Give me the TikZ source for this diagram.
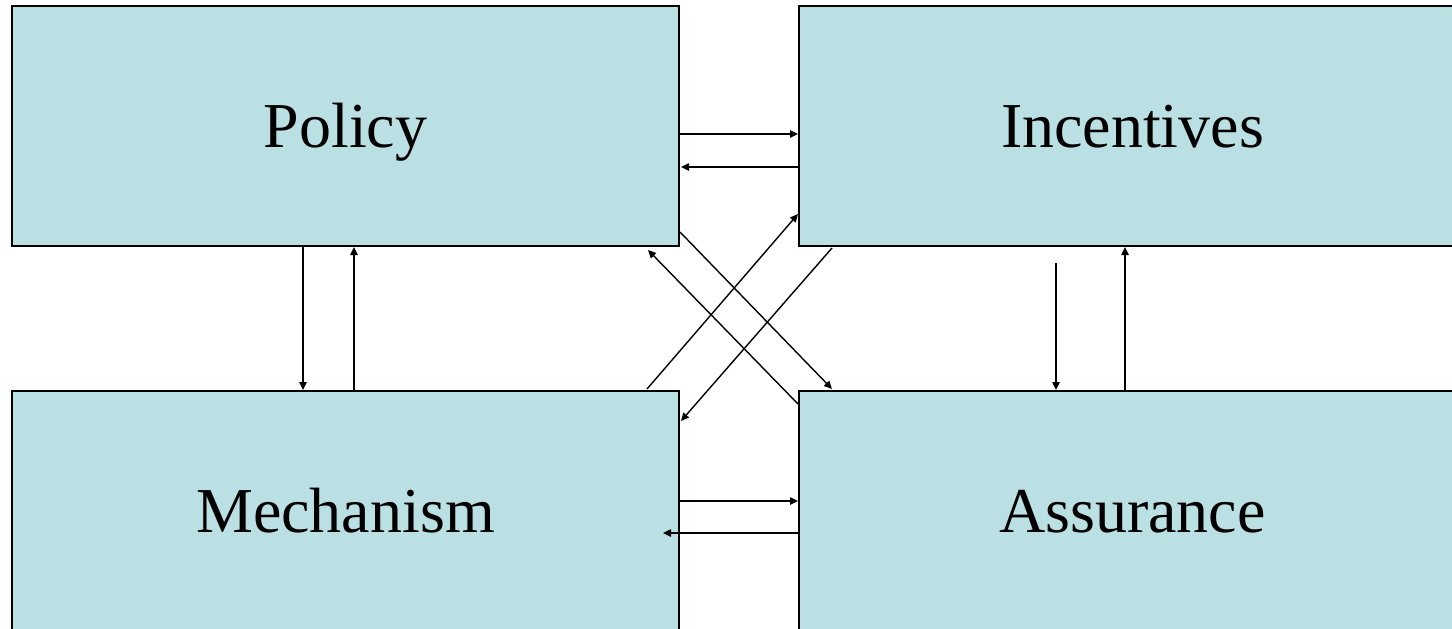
\documentclass[tikz,border=0pt]{standalone}
\usepackage{fontspec}
\setmainfont{Liberation Serif}
\usetikzlibrary{calc,arrows.meta}
\definecolor{boxfill}{RGB}{187,224,227}
\tikzset{
  block/.style={draw=black, line width=1.5pt, fill=boxfill,
    minimum width=500.25pt, minimum height=180pt, inner sep=0pt,
    text height=32pt, text depth=0pt,
    font=\fontsize{48}{58}\selectfont},
  link/.style={draw=black, line width=1.05pt, -{Triangle[length=6pt,width=5.5pt]}}
}
\begin{document}
\begin{tikzpicture}[x=0.75pt,y=-0.75pt]
  \useasboundingbox (0,0) rectangle (1452,628);
  \clip (0,0) rectangle (1452,628);

  % the four blocks
  \node[block] (P) at (345.5,126) {Policy};
  \node[block] (I) at (1132.5,126) {Incentives};
  \node[block] (M) at (345.5,511) {Mechanism};
  \node[block] (A) at (1132.5,511) {Assurance};

  % Policy <-> Incentives
  \draw[link] ($(P.east)+(0,8)$) -- ($(I.west)+(0,8)$);
  \draw[link] ($(I.west)+(0,41)$) -- ($(P.east)+(1,41)$);

  % Policy <-> Mechanism
  \draw[link] ($(P.south)+(-42.5,0)$) -- ($(M.north)+(-42.5,0)$);
  \draw[link] ($(M.north)+(8.5,0)$) -- ($(P.south)+(8.5,0)$);

  % Incentives <-> Assurance
  \coordinate (ia) at ($(I.south)+(-76.5,16)$);
  \draw[link] (ia) -- ($(A.north)+(-76.5,0)$);
  \draw[link] ($(A.north)+(-7.5,0)$) -- ($(I.south)+(-7.5,0)$);

  % Mechanism <-> Assurance
  \draw[link] ($(M.east)+(0,-10)$) -- ($(A.west)+(0,-10)$);
  \draw[link] ($(A.west)+(0,22)$) -- ($(M.east)+(-17,22)$);

  % diagonals
  \draw[link] ($(P.south east)+(0,-15)$) -- ($(A.north west)+(34,-1)$);
  \draw[link] ($(A.north west)+(0,14)$) -- ($(P.south east)+(-32,3)$);
  \draw[link] ($(M.north east)+(-33,-1)$) -- ($(I.south west)+(0,-33)$);
  \draw[link] ($(I.south west)+(34,1)$) -- ($(M.north east)+(1,31)$);
\end{tikzpicture}
\end{document}
